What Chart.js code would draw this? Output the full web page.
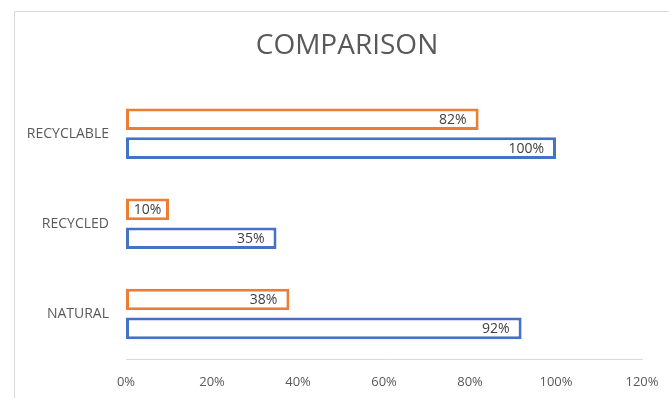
<!DOCTYPE html>
<html>
<head>
<meta charset="utf-8">
<script src="https://cdn.jsdelivr.net/npm/chart.js@4"></script>
<style>
  html, body { margin: 0; padding: 0; background: #fff; overflow: hidden; }
  #frame { position: absolute; left: 14px; top: 11px; width: 700px; height: 420px;
           border-left: 1px solid #d9d9d9; border-top: 1px solid #d9d9d9; }
  #wrap { position: absolute; left: 0; top: 0; width: 694px; height: 398px; }
</style>
</head>
<body>
<div id="frame"></div>
<div id="wrap"><canvas id="chart"></canvas></div>
<script>
const kategoriler = ['RECYCLABLE', 'RECYCLED', 'NATURAL'];
const turuncuDegerler = [82, 10, 38];
const maviDegerler = [100, 35, 92];
const xTickleri = [0, 20, 40, 60, 80, 100, 120];

// bar ucuna yüzde etiketi yaz
const etiketPlugin = {
    id: 'etiketler',
    afterLayout(chart) {
        // başlık çerçevenin ortasında dursun
        if (chart.titleBlock) chart.titleBlock.left = 52;
    },
    afterDatasetsDraw(chart) {
        const ctx = chart.ctx;
        ctx.save();
        ctx.font = '14px "Open Sans"';
        ctx.fillStyle = '#404040';
        ctx.textAlign = 'right';
        ctx.textBaseline = 'middle';
        chart.data.datasets.forEach((ds, i) => {
            chart.getDatasetMeta(i).data.forEach((bar, j) => {
                const metin = ds.data[j] + '%';
                const w = ctx.measureText(metin).width;
                const bosluk = Math.min(12, (bar.x - bar.base - w) / 2);
                ctx.fillText(metin, bar.x - bosluk, bar.y + 1);
            });
        });
        ctx.restore();
    }
};

const ctx = document.getElementById('chart').getContext('2d');
new Chart(ctx, {
    type: 'bar',
    data: {
        labels: kategoriler,
        datasets: [
            {
                data: turuncuDegerler,
                borderColor: '#ED7D31',
                backgroundColor: '#ffffff',
                borderWidth: 3,
                borderSkipped: false,
                categoryPercentage: 0.64,
                barPercentage: 0.75
            },
            {
                data: maviDegerler,
                borderColor: '#4472C4',
                backgroundColor: '#ffffff',
                borderWidth: 3,
                borderSkipped: false,
                categoryPercentage: 0.64,
                barPercentage: 0.75
            }
        ]
    },
    options: {
        indexAxis: 'y',
        responsive: true,
        maintainAspectRatio: false,
        animation: false,
        layout: { padding: { left: 0, right: 52, top: 0, bottom: 0 } },
        plugins: {
            legend: { display: false },
            tooltip: { enabled: false },
            title: {
                display: true,
                text: 'COMPARISON',
                color: '#595959',
                font: { family: 'Open Sans', size: 28, weight: 'normal' },
                padding: { top: 29, bottom: 26 }
            }
        },
        scales: {
            x: {
                min: 0,
                max: 120,
                afterBuildTicks: s => { s.ticks = xTickleri.map(v => ({ value: v })); },
                grid: { display: false, drawTicks: false },
                border: { display: true, color: '#d9d9d9', width: 1 },
                ticks: {
                    color: '#595959',
                    font: { family: 'Open Sans', size: 13 },
                    padding: 15,
                    callback: v => v + '%'
                },
                afterFit: s => { s.height = 39; }
            },
            y: {
                grid: { display: false, drawTicks: false },
                border: { display: false },
                ticks: {
                    color: '#595959',
                    font: { family: 'Open Sans', size: 14 },
                    padding: 17
                },
                afterFit: s => { s.width = 126; }
            }
        }
    },
    plugins: [etiketPlugin]
});
</script>
</body>
</html>
